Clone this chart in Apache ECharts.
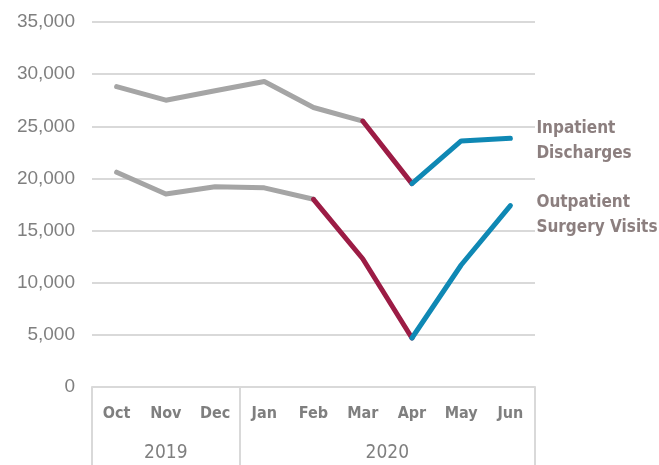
<!DOCTYPE html>
<html>
<head>
<meta charset="utf-8">
<script src="https://cdn.jsdelivr.net/npm/echarts@6/dist/echarts.min.js"></script>
<style>
  html, body { margin: 0; padding: 0; background: #fff; }
  #main { width: 659px; height: 465px; }
</style>
</head>
<body>
<div id="main"></div>
<script>
// months along the bottom, grouped under their year
var months = ['Oct', 'Nov', 'Dec', 'Jan', 'Feb', 'Mar', 'Apr', 'May', 'Jun'];
var yearLabels = ['2019', '2020'];
var yearSpans = [3, 6]; // how many months each year covers

var inpatient = [28800, 27500, 28400, 29300, 26800, 25500, 19500, 23600, 23850];
var outpatient = [20600, 18500, 19200, 19100, 18000, 12300, 4700, 11700, 17400];

// index where the gray part ends (red starts) and where red ends (blue starts)
var inpatientBreaks = [5, 6];
var outpatientBreaks = [4, 6];

var seriesNames = ['Inpatient\nDischarges', 'Outpatient\nSurgery Visits'];

var GRAY = '#a5a5a5';
var RED = '#9c1c45';
var BLUE = '#0f88b4';
var LABEL = '#8c7f7f';
var narrow = '"DejaVu Sans Condensed", sans-serif';

function slice(values, from, to) {
  return values.map(function (v, i) { return (i >= from && i <= to) ? v : null; });
}

function segments(values, breaks, name, labelOffset) {
  var last = values.length - 1;
  var parts = [
    { data: slice(values, 0, breaks[0]), color: GRAY },
    { data: slice(values, breaks[0], breaks[1]), color: RED },
    { data: slice(values, breaks[1], last), color: BLUE }
  ];
  return parts.map(function (p, k) {
    var s = {
      type: 'line',
      data: p.data,
      symbol: 'none',
      silent: true,
      lineStyle: { color: p.color, width: 5, cap: 'round', join: 'round' },
      z: 2 + k
    };
    if (k === 2) {
      s.endLabel = {
        show: true,
        formatter: name,
        color: LABEL,
        fontFamily: narrow,
        fontWeight: 'bold',
        fontSize: 17,
        lineHeight: 25,
        align: 'left',
        offset: labelOffset
      };
    }
    return s;
  });
}

// year tick positions (boundaries) and label positions (centres)
var yearTicks = [0];
var yearCentres = [];
yearSpans.forEach(function (n) {
  var start = yearTicks[yearTicks.length - 1];
  yearCentres.push(start + n / 2);
  yearTicks.push(start + n);
});

var chart = echarts.init(document.getElementById('main'));

var option = {
  animation: false,
  grid: { left: 92, right: 124, top: 22, bottom: 78 },
  xAxis: [
    {
      type: 'category',
      data: months,
      boundaryGap: true,
      axisLine: { show: true, lineStyle: { color: '#d9d9d9', width: 2 } },
      axisTick: { show: false },
      axisLabel: {
        color: '#7f7f7f',
        fontFamily: narrow,
        fontWeight: 'bold',
        fontSize: 16,
        margin: 19
      }
    },
    {
      type: 'value',
      position: 'bottom',
      min: 0,
      max: months.length,
      axisLine: { show: false },
      splitLine: { show: false },
      axisTick: {
        show: true,
        customValues: yearTicks,
        length: 80,
        lineStyle: { color: '#d9d9d9', width: 2 }
      },
      axisLabel: {
        customValues: yearCentres,
        formatter: function (v) {
          var i = yearCentres.indexOf(v);
          return i >= 0 ? yearLabels[i] : '';
        },
        color: '#7f7f7f',
        fontFamily: narrow,
        fontSize: 19,
        margin: 57
      }
    }
  ],
  yAxis: {
    type: 'value',
    min: 0,
    max: 35000,
    interval: 5000,
    axisLine: { show: false },
    axisTick: { show: false },
    splitLine: { lineStyle: { color: '#d9d9d9', width: 2 } },
    axisLabel: {
      color: '#7f7f7f',
      fontFamily: 'Liberation Sans, Arial, sans-serif',
      fontSize: 19,
      margin: 17,
      formatter: function (v) { return v.toLocaleString('en-US'); }
    }
  },
  series: segments(inpatient, inpatientBreaks, seriesNames[0], [18, 3])
    .concat(segments(outpatient, outpatientBreaks, seriesNames[1], [18, 10]))
};

chart.setOption(option);
</script>
</body>
</html>
